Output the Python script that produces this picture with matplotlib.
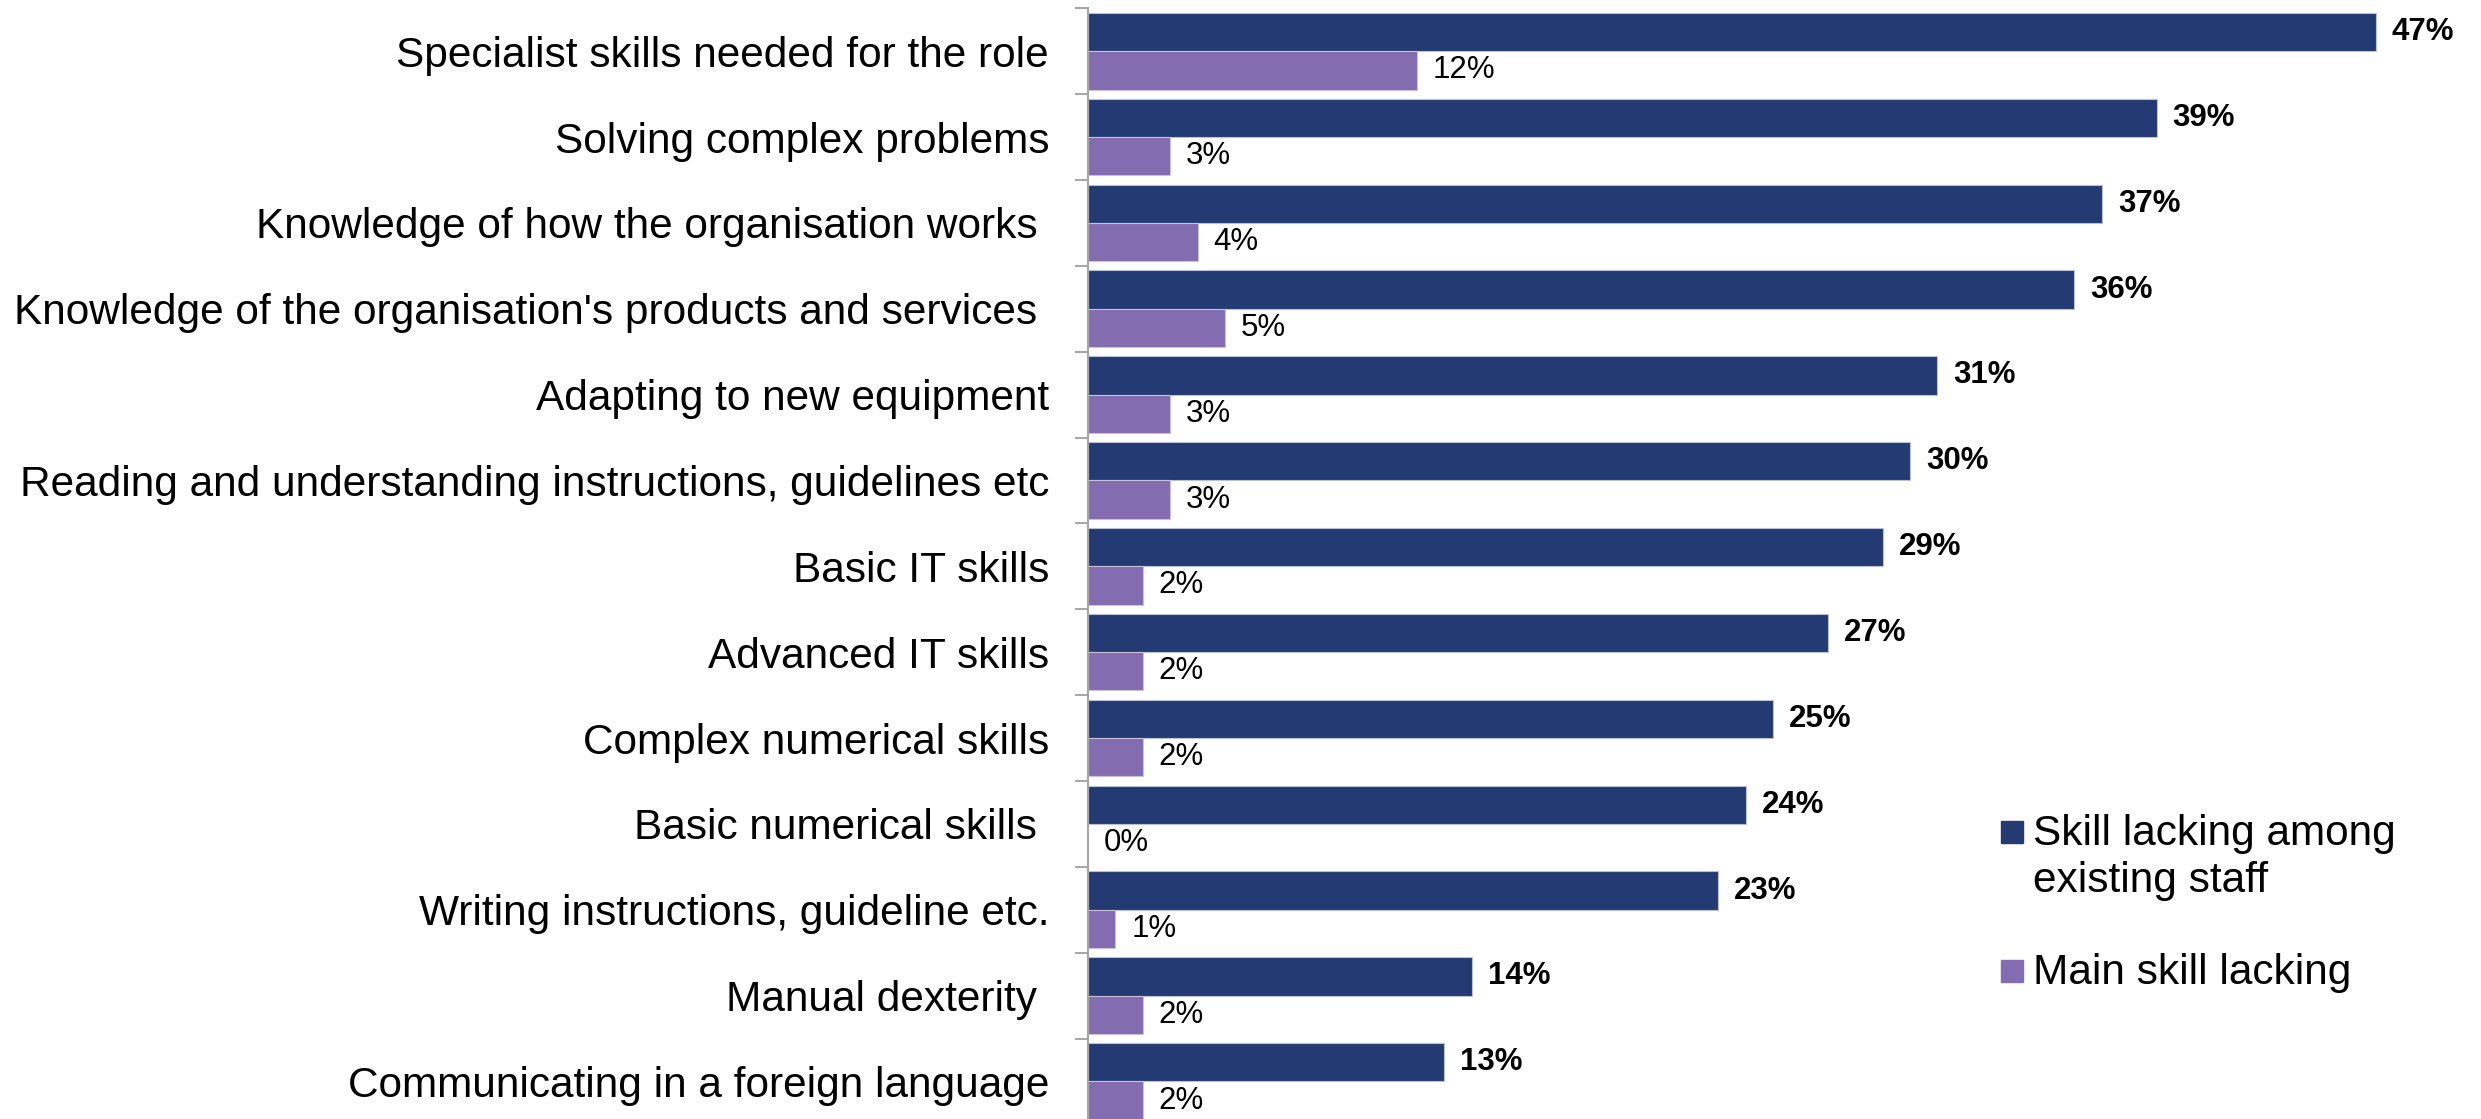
import matplotlib
matplotlib.use('Agg')
import matplotlib.pyplot as plt
import numpy as np
from matplotlib.patches import Rectangle

plt.rcParams['font.family'] = ['Liberation Sans', 'DejaVu Sans']

# data
categories = [
    "Specialist skills needed for the role",
    "Solving complex problems",
    "Knowledge of how the organisation works ",
    "Knowledge of the organisation's products and services ",
    "Adapting to new equipment",
    "Reading and understanding instructions, guidelines etc",
    "Basic IT skills",
    "Advanced IT skills",
    "Complex numerical skills",
    "Basic numerical skills ",
    "Writing instructions, guideline etc.",
    "Manual dexterity ",
    "Communicating in a foreign language",
]
lacking_existing = [47, 39, 37, 36, 31, 30, 29, 27, 25, 24, 23, 14, 13]
main_lacking = [12, 3, 4, 5, 3, 3, 2, 2, 2, 0, 1, 2, 2]
legend_labels = ["Skill lacking among\nexisting staff", "Main skill lacking"]

BLUE = '#243A73'
PURPLE = '#846CB0'

W, H = 2481, 1119
fig = plt.figure(figsize=(W / 100, H / 100), dpi=100)

# axes placed in pixel terms: spine at x=1088, categories 85.85 px tall from y=8.3
left_px, top_px, cat_h = 1088, 8.3, 85.85
bottom_px = top_px + cat_h * len(categories)
ax = fig.add_axes([left_px / W, 1 - bottom_px / H, (W - left_px) / W, (bottom_px - top_px) / H])

px_per_pct = 27.4
ax.set_xlim(0, (W - left_px) / px_per_pct)
ax.set_ylim(len(categories) - 0.5, -0.5)

y = np.arange(len(categories))
bh = 0.446
bars1 = ax.barh(y - bh / 2, lacking_existing, height=bh, color=BLUE,
                edgecolor='#b9c0d8', linewidth=0.8)
bars2 = ax.barh(y + bh / 2, main_lacking, height=bh, color=PURPLE,
                edgecolor='#c9c0dc', linewidth=0.8)

for b, v in zip(bars1, lacking_existing):
    ax.annotate(f"{v}%", (b.get_width(), b.get_y() + b.get_height() / 2),
                xytext=(11.5, 0), textcoords='offset points', va='center',
                ha='left', fontsize=22.5, fontweight='bold')
for b, v in zip(bars2, main_lacking):
    ax.annotate(f"{v}%", (b.get_width(), b.get_y() + b.get_height() / 2),
                xytext=(11.5, 0), textcoords='offset points', va='center',
                ha='left', fontsize=22.5)

ax.set_yticks(y)
ax.set_yticklabels(categories, fontsize=30.5)
ax.tick_params(axis='y', which='major', length=0, pad=28)
ax.set_yticks(np.arange(-0.5, len(categories)), minor=True)
ax.tick_params(axis='y', which='minor', length=9.4, width=1.4, color='#A6A6A6')
ax.set_xticks([])

for s in ['top', 'right', 'bottom']:
    ax.spines[s].set_visible(False)
ax.spines['left'].set_color('#A6A6A6')
ax.spines['left'].set_linewidth(1.5)

# legend drawn by hand so the marker sits on the first line of text
legend_colors = [BLUE, PURPLE]
square_tops = [821, 960]
for lab, col, sq_top in zip(legend_labels, legend_colors, square_tops):
    fig.patches.append(Rectangle((2001 / W, 1 - (sq_top + 22) / H), 22 / W, 22 / H,
                                 transform=fig.transFigure, color=col))
    for i, line in enumerate(lab.split('\n')):
        base = sq_top + 24 + i * 47
        fig.text(2033 / W, 1 - base / H, line, fontsize=30.5, va='baseline', ha='left')

fig.savefig('out.png', dpi=100)
